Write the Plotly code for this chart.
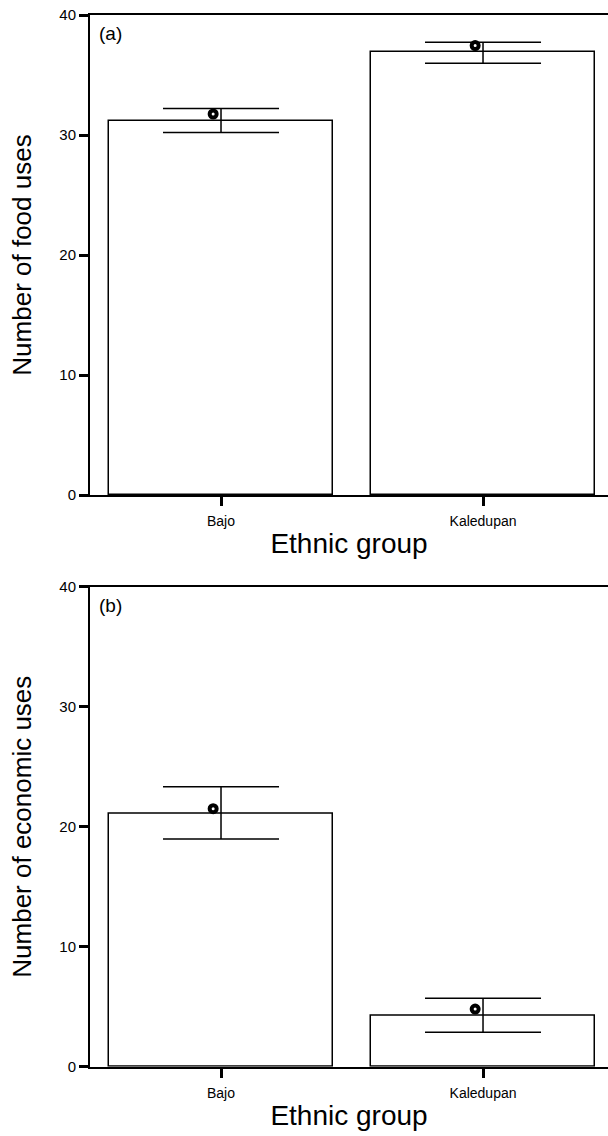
import plotly.graph_objects as go

categories = ["Bajo", "Kaledupan"]
food_bar = [31.15, 36.9]
food_err_low = [30.2, 35.97]
food_err_high = [32.2, 37.72]
food_dot = [31.75, 37.45]

econ_bar = [21.1, 4.25]
econ_err_low = [18.97, 2.87]
econ_err_high = [23.33, 5.7]
econ_dot = [21.5, 4.8]

y_ticks = [0, 10, 20, 30, 40]

FONT = "Arial, Liberation Sans, sans-serif"
W, H = 608, 1136
xpos = list(range(len(categories)))

fig = go.Figure()

panels = [
    ("x", "y", food_bar, food_err_low, food_err_high, food_dot),
    ("x2", "y2", econ_bar, econ_err_low, econ_err_high, econ_dot),
]
for xa, ya, bars, lo, hi, dots in panels:
    fig.add_trace(go.Bar(
        x=xpos, y=bars, xaxis=xa, yaxis=ya, width=0.855,
        marker=dict(color="white", line=dict(color="black", width=1.5)),
        error_y=dict(type="data", symmetric=False,
                     array=[h - b for h, b in zip(hi, bars)],
                     arrayminus=[b - l for b, l in zip(bars, lo)],
                     color="black", thickness=1.5, width=58),
        showlegend=False, hoverinfo="skip"))
    fig.add_trace(go.Scatter(
        x=[p - 0.03 for p in xpos], y=dots, xaxis=xa, yaxis=ya, mode="markers",
        marker=dict(symbol="circle-open", size=7, color="black", line=dict(width=4, color="#111")),
        showlegend=False, hoverinfo="skip"))

def px_dom(top, bottom):
    return [1 - bottom / H, 1 - top / H]

xcommon = dict(range=[-0.5, 1.477], tickvals=xpos, ticktext=categories,
               showline=True, linecolor="black", linewidth=2, mirror=True,
               ticks="outside", ticklen=9, tickwidth=3, tickcolor="black",
               ticklabelstandoff=3, automargin=False,
               showgrid=False, zeroline=False,
               tickfont=dict(family=FONT, size=14, color="black"),
               title=dict(text="Ethnic group", font=dict(family=FONT, size=28, color="black"), standoff=6))
ycommon = dict(range=[0, 40], tickvals=y_ticks, showline=True, linecolor="black", linewidth=2,
               ticks="outside", ticklen=9, tickwidth=3, tickcolor="black", automargin=False,
               showgrid=False, zeroline=False,
               tickfont=dict(family=FONT, size=15, color="black"))

fig.update_layout(
    width=W, height=H, autosize=False,
    margin=dict(l=90, r=0, t=0, b=0, pad=0, autoexpand=False),
    plot_bgcolor="white", paper_bgcolor="white",
    bargap=0,
    xaxis=dict(**xcommon, anchor="y", domain=[0, 1]),
    xaxis2=dict(**xcommon, anchor="y2", domain=[0, 1]),
    yaxis=dict(**ycommon, anchor="x", domain=px_dom(15, 495),
               title=dict(text="Number of food uses", font=dict(family=FONT, size=26, color="black"), standoff=20)),
    yaxis2=dict(**ycommon, anchor="x2", domain=px_dom(586.7, 1066.7),
                title=dict(text="Number of economic uses", font=dict(family=FONT, size=26, color="black"), standoff=20)),
    annotations=[
        dict(text="(a)", x=-0.5, y=40, xref="x", yref="y", xanchor="left", yanchor="top",
             xshift=7, yshift=-6, showarrow=False, font=dict(family=FONT, size=19, color="black")),
        dict(text="(b)", x=-0.5, y=40, xref="x2", yref="y2", xanchor="left", yanchor="top",
             xshift=7, yshift=-6, showarrow=False, font=dict(family=FONT, size=19, color="black")),
    ],
)

fig.write_html("out.html")
